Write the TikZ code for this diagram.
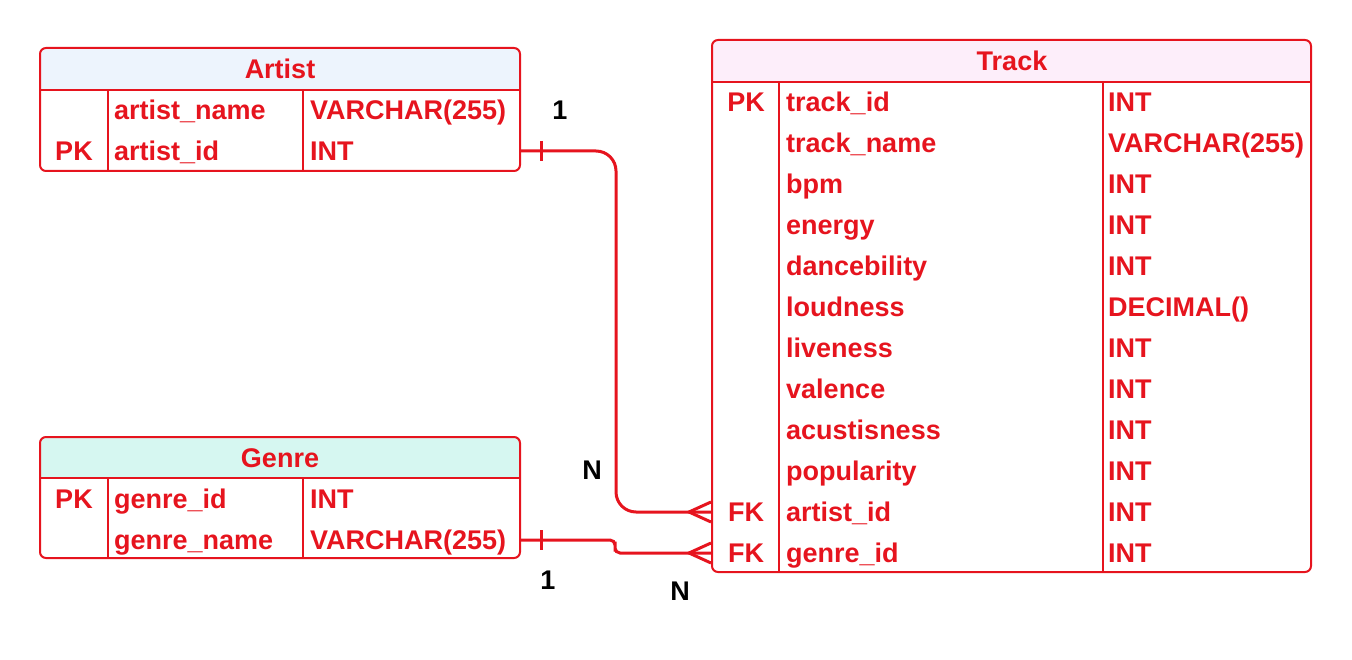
\documentclass[tikz,border=0pt]{standalone}
\usepackage{fontspec}
\setmainfont{Liberation Sans}
\usetikzlibrary{positioning}
\definecolor{erdred}{RGB}{230,20,30}
\definecolor{artistbg}{RGB}{237,244,253}
\definecolor{genrebg}{RGB}{214,247,241}
\definecolor{trackbg}{RGB}{253,238,250}

\begin{document}
\begin{tikzpicture}[x=1pt,y=-1pt,
    every node/.style={font=\fontsize{27}{31}\selectfont\bfseries,text=erdred,inner sep=0pt,text height=19.5pt,text depth=0pt},
    fld/.style={anchor=west},
    card/.style={text=black},
    tbl/.style={draw=erdred,line width=2pt,rounded corners=6pt},
    grid/.style={draw=erdred,line width=2pt},
    rel/.style={draw=erdred,line width=3pt}]
    \useasboundingbox (0,0) rectangle (1352,660);

    \fill[artistbg,rounded corners=6pt] (40,48) rectangle (520,90);
    \fill[artistbg] (40,70) rectangle (520,90);
    \node[tbl,minimum width=480pt,minimum height=123pt] (artist) at (280,109.5) {};
    \path[grid] (40,90) -- (520,90) (108,90) -- (108,171) (303,90) -- (303,171);
    \node (a_head) at (280,69) {Artist};
    \node[fld] (a_name) at (114,110) {artist\_name};
    \node[fld] (a_name_t) at (310,110) {VARCHAR(255)};
    \node (a_pk) at (74,151) {PK};
    \node[fld] (a_id) at (114,151) {artist\_id};
    \node[fld] (a_id_t) at (310,151) {INT};

    \fill[genrebg,rounded corners=6pt] (40,437) rectangle (520,478);
    \fill[genrebg] (40,460) rectangle (520,478);
    \node[tbl,minimum width=480pt,minimum height=121pt] (genre) at (280,497.5) {};
    \path[grid] (40,478) -- (520,478) (108,478) -- (108,558) (303,478) -- (303,558);
    \node (g_head) at (280,458) {Genre};
    \node (g_pk) at (74,499) {PK};
    \node[fld] (g_id) at (114,499) {genre\_id};
    \node[fld] (g_id_t) at (310,499) {INT};
    \node[fld] (g_name) at (114,540) {genre\_name};
    \node[fld] (g_name_t) at (310,540) {VARCHAR(255)};

    \fill[trackbg,rounded corners=6pt] (712,40) rectangle (1311,82);
    \fill[trackbg] (712,60) rectangle (1311,82);
    \node[tbl,minimum width=599pt,minimum height=532pt] (track) at (1011.5,306) {};
    \path[grid] (712,82) -- (1311,82) (779,82) -- (779,572) (1103,82) -- (1103,572);
    \node (t_head) at (1012,61) {Track};
    \node (t_pk) at (746,102) {PK};
    \node[fld] (t_id) at (786,102) {track\_id};
    \node[fld] (t_id_t) at (1108,102) {INT};
    \node[fld] (t_name) at (786,143) {track\_name};
    \node[fld] (t_name_t) at (1108,143) {VARCHAR(255)};
    \node[fld] (t_bpm) at (786,184) {bpm};
    \node[fld] (t_bpm_t) at (1108,184) {INT};
    \node[fld] (t_energy) at (786,225) {energy};
    \node[fld] (t_energy_t) at (1108,225) {INT};
    \node[fld] (t_dance) at (786,266) {dancebility};
    \node[fld] (t_dance_t) at (1108,266) {INT};
    \node[fld] (t_loud) at (786,307) {loudness};
    \node[fld] (t_loud_t) at (1108,307) {DECIMAL()};
    \node[fld] (t_live) at (786,348) {liveness};
    \node[fld] (t_live_t) at (1108,348) {INT};
    \node[fld] (t_val) at (786,389) {valence};
    \node[fld] (t_val_t) at (1108,389) {INT};
    \node[fld] (t_acu) at (786,430) {acustisness};
    \node[fld] (t_acu_t) at (1108,430) {INT};
    \node[fld] (t_pop) at (786,471) {popularity};
    \node[fld] (t_pop_t) at (1108,471) {INT};
    \node (t_fk1) at (746,512) {FK};
    \node[fld] (t_artist) at (786,512) {artist\_id};
    \node[fld] (t_artist_t) at (1108,512) {INT};
    \node (t_fk2) at (746,553) {FK};
    \node[fld] (t_genre) at (786,553) {genre\_id};
    \node[fld] (t_genre_t) at (1108,553) {INT};

    \coordinate (a_out) at (artist.east |- a_id);
    \coordinate (g_out) at (genre.east |- g_name);
    \coordinate (t_in1) at (track.west |- t_artist);
    \coordinate (t_in2) at (track.west |- t_genre);
    \coordinate (bend_a) at (616,332);
    \coordinate (bend_g) at (615,546.5);

    \path[rel,rounded corners=20pt] (a_out) -| (bend_a) |- (t_in1);
    \path[rel,rounded corners=5pt] (g_out) -| (bend_g) |- (t_in2);
    \path[rel] ([xshift=20pt]a_out) ++(0,-10) -- ++(0,20);
    \path[rel] ([xshift=20pt]g_out) ++(0,-10) -- ++(0,20);
    \path[rel] (t_in1) ++(0,-10) -- ++(-22,10) -- ++(22,10);
    \path[rel] (t_in2) ++(0,-10) -- ++(-22,10) -- ++(22,10);

    \node[card] (one_a) at (560,110) {1};
    \node[card] (many_a) at (592,470) {N};
    \node[card] (one_g) at (548,580) {1};
    \node[card] (many_g) at (680,591) {N};
\end{tikzpicture}
\end{document}
